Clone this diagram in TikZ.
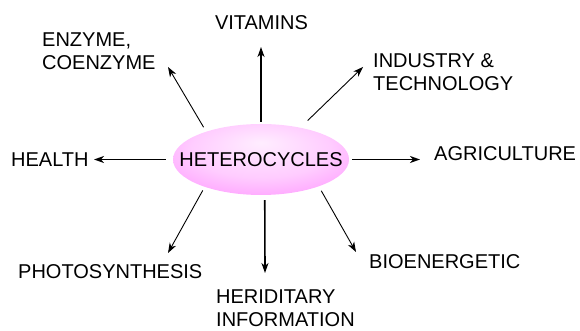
\documentclass[tikz,border=0pt]{standalone}
\usepackage{fontspec}
\setmainfont{Liberation Sans}
\usetikzlibrary{arrows.meta, positioning, calc, shapes.geometric}
\definecolor{HubLight}{rgb}{1.00, 0.93, 1.00}
\definecolor{HubSoft}{rgb}{1.00, 0.80, 1.00}
\definecolor{HubMid}{rgb}{1.00, 0.60, 1.00}
\definecolor{HubDeep}{rgb}{0.99, 0.46, 0.99}
\definecolor{HubEdge}{rgb}{0.96, 0.36, 0.96}
\pgfdeclareradialshading{hubglow}{\pgfpoint{0bp}{12bp}}{%
  color(0bp)=(HubLight); color(20bp)=(HubSoft); color(36bp)=(HubMid);
  color(45bp)=(HubDeep); color(50bp)=(HubEdge)}

\begin{document}
\begin{tikzpicture}[
    x=1pt, y=1pt,
    font=\fontsize{20}{23}\selectfont,
    hub/.style={ellipse, shading=hubglow, minimum width=176pt, minimum height=71pt, inner sep=0pt},
    lbl/.style={inner sep=0pt, anchor=base west},
    lbl2/.style={inner sep=0pt, anchor=north west, align=left},
    arrmain/.style={-{Stealth[length=10pt, width=7pt, inset=3pt]}, line width=1.6pt},
    arrdiag/.style={-{Stealth[length=10pt, width=7pt, inset=3pt]}, line width=0.9pt},
]
\useasboundingbox (0,0) rectangle (580,331);

% ===== centro =====
\node[hub] (hc) at (261,171.5) {};
\node[inner sep=0pt] (hctext) at (hc) {HETEROCYCLES};

% ===== etiquetas =====
\node[lbl, anchor=base] (vit) at (261.5,301) {VITAMINS};
\node[lbl2] (enz) at (42,298) {ENZYME,\\COENZYME};
\node[lbl2] (ind) at (373,278) {INDUSTRY \&\\TECHNOLOGY};
\node[lbl] (heal) at (11,164) {HEALTH};
\node[lbl] (agr) at (434,170) {AGRICULTURE};
\node[lbl] (photo) at (18,52) {PHOTOSYNTHESIS};
\node[lbl2] (her) at (216,41) {HERIDITARY\\INFORMATION};
\node[lbl] (bio) at (369,62) {BIOENERGETIC};

% ===== puntas de flecha =====
\coordinate (vit-tip) at (261,284);
\coordinate (enz-tip) at (168,264);
\coordinate (ind-tip) at (363,264);
\coordinate (heal-tip) at (94,171.5);
\coordinate (agr-tip) at (420,171.5);
\coordinate (photo-tip) at (168,78);
\coordinate (her-tip) at (265,58);
\coordinate (bio-tip) at (356,79);

% ===== flechas =====
\draw[arrmain, shorten <=2pt] (hc.north) -- (vit-tip);
\draw[arrmain, shorten <=5pt] (hc.276) -- (her-tip);
\draw[arrmain, shorten <=7pt] (hc.west) -- (heal-tip);
\draw[arrmain, shorten <=3pt] (hc.east) -- (agr-tip);
\draw[arrdiag, shorten <=5pt] (hc.153) -- (enz-tip);
\draw[arrdiag, shorten <=10pt] (hc.39) -- (ind-tip);
\draw[arrdiag, shorten <=4pt] (hc.206) -- (photo-tip);
\draw[arrdiag, shorten <=5pt] (hc.335) -- (bio-tip);

\end{tikzpicture}
\end{document}
